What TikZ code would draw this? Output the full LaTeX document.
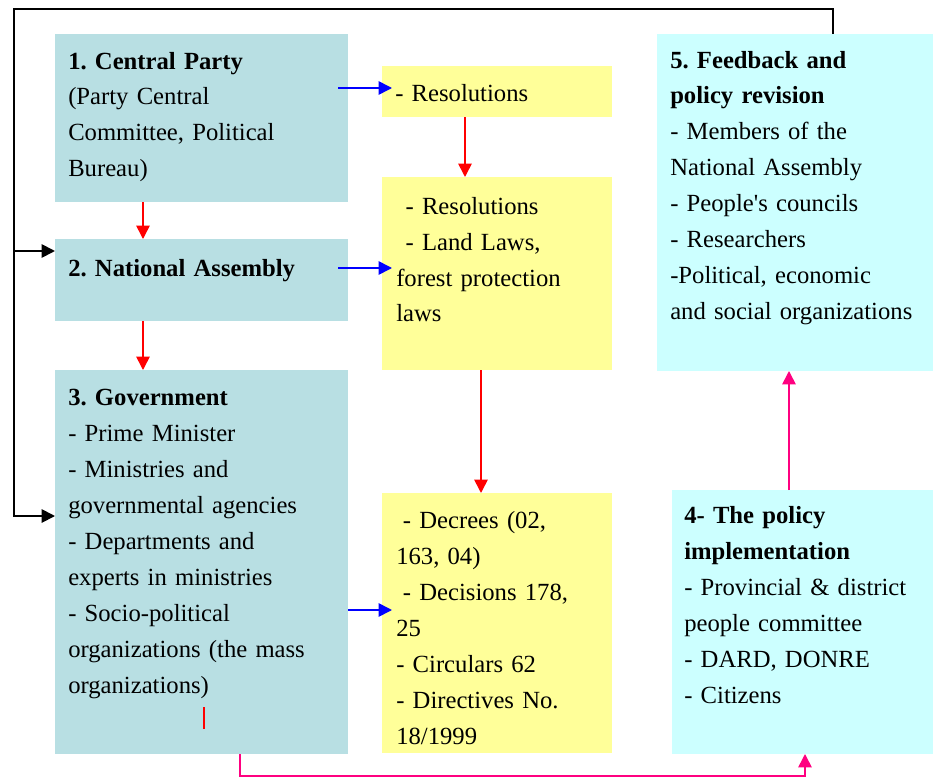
\documentclass[tikz,border=0pt]{standalone}
\usepackage{fontspec}
\setmainfont{Liberation Serif}
\usetikzlibrary{arrows.meta,calc}
\definecolor{tealbg}{RGB}{184,223,227}
\definecolor{yelbg}{RGB}{255,255,153}
\definecolor{cyanbg}{RGB}{204,255,255}
\definecolor{bluln}{RGB}{0,0,255}
\definecolor{redln}{RGB}{255,0,0}
\definecolor{magln}{RGB}{255,0,128}
\begin{document}
\frenchspacing
\begin{tikzpicture}[x=0.75pt,y=-0.75pt,
  pxbox/.style 2 args={draw=none,inner sep=0pt,outer sep=0pt,anchor=north west,
     minimum width={#1*0.75pt},minimum height={#2*0.75pt}},
  tealbox/.style={fill=tealbg},
  yelbox/.style={fill=yelbg},
  cyanbox/.style={fill=cyanbg},
  txt/.style={anchor=base west,inner sep=0pt,align=left,text width=260pt,
     font=\fontsize{18.5}{27}\selectfont\frenchspacing},
  tip/.style={-{Triangle[length=10pt,width=10pt]}},
  blackln/.style={draw=black,line width=1.4pt},
  redarr/.style={draw=redln,line width=1.2pt,tip},
  bluarr/.style={draw=bluln,line width=1.2pt,tip},
  magarr/.style={draw=magln,line width=1.2pt},
]
\useasboundingbox (0,0) rectangle (933,778);

% boxes
\node[pxbox={293}{168},tealbox] (b1) at (55,34) {};
\node[pxbox={293}{82},tealbox] (b2) at (55,239) {};
\node[pxbox={293}{384},tealbox] (b3) at (55,370) {};
\node[pxbox={230}{51},yelbox] (y1) at (382,66) {};
\node[pxbox={230}{193},yelbox] (y2) at (382,177) {};
\node[pxbox={230}{260},yelbox] (y3) at (382,493) {};
\node[pxbox={276}{337},cyanbox] (b5) at (657,34) {};
\node[pxbox={261}{264},cyanbox] (b4) at (672,490) {};

% texts
\node[txt] (t1) at (68,69) {\textbf{1. Central Party}\\(Party Central\\Committee, Political\\Bureau)};
\node[txt] (t2) at (68,276) {\textbf{2. National Assembly}};
\node[txt] (t3) at (68,405) {\textbf{3. Government}\\- Prime Minister\\- Ministries and\\governmental agencies\\- Departments and\\experts in ministries\\- Socio-political\\organizations (the mass\\organizations)};
\node[txt] (ty1) at (395,101) {- Resolutions};
\node[txt] (ty2) at (396,214) {\hspace*{7pt}- Resolutions\\\hspace*{7pt}- Land Laws,\\forest protection\\laws};
\node[txt] (ty3) at (396,528) {\hspace*{5pt}- Decrees (02,\\163, 04)\\\hspace*{5pt}- Decisions 178,\\25\\- Circulars 62\\- Directives No.\\18/1999};
\node[txt] (t4) at (684,523) {\textbf{4- The policy}\\\textbf{implementation}\\- Provincial \& district\\people committee\\- DARD, DONRE\\- Citizens};
\node[txt] (t5) at (670,68) {\textbf{5. Feedback and}\\\textbf{policy revision}\\- Members of the\\National Assembly\\- People\textquotesingle s councils\\- Researchers\\-Political, economic\\and social organizations};

% black feedback loop
\coordinate (c1) at (833,9);
\coordinate (c2) at (14,9);
\coordinate (c3) at (14,516);
\coordinate (c4) at (14,251);
\draw[blackln,tip] (b5.north -| c1) -- (c1) -- (c2) -- (c3) -- (c3 -| b3.west);
\draw[blackln,tip] (c4) -- (c4 -| b2.west);

% red arrows
\coordinate (r1) at (143,0);
\draw[redarr] (b1.south -| r1) -- (b2.north -| r1);
\draw[redarr] (b2.south -| r1) -- (b3.north -| r1);
\coordinate (r2) at (465,0);
\draw[redarr] (y1.south -| r2) -- (y2.north -| r2);
\coordinate (r3) at (481,0);
\draw[redarr] (y2.south -| r3) -- (y3.north -| r3);
\coordinate (k1) at (204,707);
\coordinate (k2) at (204,729);
\draw[draw=redln,line width=1.2pt] (k1) -- (k2);

% blue arrows
\coordinate (u1) at (338,88);
\coordinate (u2) at (392,88);
\draw[bluarr] (u1) -- (u2);
\coordinate (u3) at (338,268);
\coordinate (u4) at (392,268);
\draw[bluarr] (u3) -- (u4);
\coordinate (u5) at (392,610);
\draw[bluarr] (u5 -| b3.east) -- (u5);

% magenta connectors
\coordinate (m1) at (240,776);
\coordinate (m2) at (805,776);
\draw[magarr,tip] (b3.south -| m1) -- (m1) -- (m2) -- (b4.south -| m2);
\coordinate (m3) at (789,0);
\draw[magarr,tip] (b4.north -| m3) -- (b5.south -| m3);
\end{tikzpicture}
\end{document}
